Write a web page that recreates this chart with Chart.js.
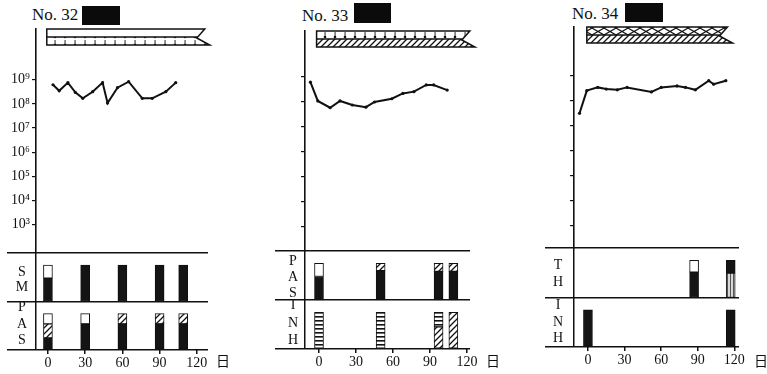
<!DOCTYPE html>
<html>
<head>
<meta charset="utf-8">
<script src="https://cdn.jsdelivr.net/npm/chart.js@4.4.1/dist/chart.umd.min.js"></script>
<style>
  body { margin: 0; width: 767px; height: 374px; overflow: hidden; position: relative; background: #fff;
         font-family: "Liberation Serif", "Noto Sans CJK JP", serif; color: #111; }
  canvas { position: absolute; }
  .title { position: absolute; font-size: 17px; line-height: 17px; top: 6px; }
  .mask { position: absolute; background: #0b0b0b; }
  .row { position: absolute; width: 16px; text-align: center; font-size: 14px; }
  .day { position: absolute; top: 354px; font-size: 14px; line-height: 16px; }
</style>
</head>
<body>
<div class="title" style="left:32px">No. 32</div><div class="mask" style="left:82px;top:6px;width:38px;height:19px"></div>
<div class="title" style="left:302px;top:7px">No. 33</div><div class="mask" style="left:354px;top:3px;width:37px;height:20px"></div>
<div class="title" style="left:572px;top:5px">No. 34</div><div class="mask" style="left:625px;top:3px;width:38px;height:19px"></div>

<canvas id="line32" width="220" height="262" style="left:0;top:0"></canvas>
<canvas id="line33" width="220" height="262" style="left:260px;top:0"></canvas>
<canvas id="line34" width="230" height="262" style="left:520px;top:0"></canvas>
<canvas id="bar32" width="240" height="134" style="left:0;top:240px"></canvas>
<canvas id="bar33" width="240" height="134" style="left:260px;top:240px"></canvas>
<canvas id="bar34" width="247" height="134" style="left:520px;top:240px"></canvas>

<div class="row" style="left:14px;top:264px;line-height:15px">S<br>M</div>
<div class="row" style="left:14px;top:299px;line-height:16.5px">P<br>A<br>S</div>
<div class="row" style="left:285px;top:253px;line-height:16px">P<br>A<br>S</div>
<div class="row" style="left:285px;top:296px;line-height:17.5px">I<br>N<br>H</div>
<div class="row" style="left:550px;top:256px;line-height:17px">T<br>H</div>
<div class="row" style="left:550px;top:297px;line-height:16.5px">I<br>N<br>H</div>
<div class="day" style="left:216px">日</div>
<div class="day" style="left:486px">日</div>
<div class="day" style="left:754px">日</div>

<script>
// ── 菌数 (log) の推移 ──
const days32 = [4, 9, 16, 22, 28, 36, 44, 48, 56, 65, 76, 84, 95, 103];
const cfu32 = [6.2e8, 3.5e8, 7.6e8, 3.0e8, 1.7e8, 3.2e8, 7.6e8, 1.1e8, 4.7e8, 8.3e8, 1.7e8, 1.7e8, 3.2e8, 7.6e8];
const days33 = [-7, -1, 9, 17, 27, 38, 45, 59, 68, 77, 87, 93, 104];
const cfu33 = [6.2e8, 1.1e8, 5.9e7, 1.1e8, 7.6e7, 6.2e7, 1.0e8, 1.35e8, 2.2e8, 2.6e8, 4.8e8, 4.8e8, 3.0e8];
const days34 = [-7, -1, 8, 15, 24, 32, 52, 60, 73, 80, 88, 99, 103, 113];
const cfu34 = [3.2e7, 2.6e8, 3.5e8, 3.0e8, 2.8e8, 3.5e8, 2.3e8, 3.5e8, 4.0e8, 3.5e8, 2.8e8, 6.5e8, 4.7e8, 6.5e8];

const yTicks = [1e3, 1e4, 1e5, 1e6, 1e7, 1e8, 1e9];
const xTicks = [0, 30, 60, 90, 120];

// ── 治療期間 (上部の帯) ──
const regimen32 = [-1, 128];
const regimen33 = [-2, 124];
const regimen34 = [-1, 116];

// ── 耐性検査 (各棒: [塗り, 下端, 上端]) ──
const smDays32 = [0, 30, 60, 90, 109];
const smSegs32 = [
  [["black", 0, 0.64], ["white", 0.64, 1]],
  [["black", 0, 1]], [["black", 0, 1]], [["black", 0, 1]], [["black", 0, 1]],
];
const pasDays32 = [0, 30, 60, 90, 109];
const pasSegs32 = [
  [["black", 0, 0.33], ["diag", 0.33, 0.72], ["white", 0.72, 1]],
  [["black", 0, 0.72], ["white", 0.72, 1]],
  [["black", 0, 0.72], ["diag", 0.72, 1]],
  [["black", 0, 0.72], ["diag", 0.72, 1]],
  [["black", 0, 0.72], ["diag", 0.72, 1]],
];
const pasDays33 = [0, 50, 97, 109];
const pasSegs33 = [
  [["black", 0, 0.64], ["white", 0.64, 1]],
  [["black", 0, 0.8], ["diag", 0.8, 1]],
  [["black", 0, 0.78], ["diag", 0.78, 1]],
  [["black", 0, 0.78], ["diag", 0.78, 1]],
];
const inhDays33 = [0, 50, 97, 109];
const inhSegs33 = [
  [["hline", 0, 1]],
  [["hline", 0, 1]],
  [["diag", 0, 0.6], ["hline", 0.6, 1]],
  [["diag", 0, 1]],
];
const thDays34 = [87, 117];
const thSegs34 = [
  [["black", 0, 0.68], ["white", 0.68, 1]],
  [["vline", 0, 0.66], ["black", 0.66, 1]],
];
const inhDays34 = [0, 117];
const inhSegs34 = [
  [["black", 0, 1]],
  [["black", 0, 1]],
];

const SUP = { 0: "⁰", 1: "¹", 2: "²", 3: "³", 4: "⁴", 5: "⁵", 6: "⁶", 7: "⁷", 8: "⁸", 9: "⁹" };
const INK = "#111";
const BAR_H = 0.75; // 棒の高さ (行の割合)
const FONT = "'Liberation Serif', serif";

function makePattern(kind) {
  const c = document.createElement("canvas");
  const g = c.getContext("2d");
  const size = { diag: [6, 6], hline: [4, 4], vline: [3, 3], dots: [10, 8], cross: [12, 7], blank: [4, 4] }[kind];
  c.width = size[0];
  c.height = size[1];
  g.fillStyle = kind === "vline" ? "#d8d8d8" : "#fff";
  g.fillRect(0, 0, c.width, c.height);
  g.strokeStyle = INK;
  g.fillStyle = INK;
  if (kind === "diag") {
    g.lineWidth = 1.3;
    g.beginPath();
    g.moveTo(0, 6); g.lineTo(6, 0);
    g.moveTo(-1, 1); g.lineTo(1, -1);
    g.moveTo(5, 7); g.lineTo(7, 5);
    g.stroke();
  } else if (kind === "hline") {
    g.fillRect(0, 0, 4, 1.6);
  } else if (kind === "vline") {
    g.fillStyle = "#555";
    g.fillRect(0, 0, 1, 3);
  } else if (kind === "dots") {
    g.beginPath();
    g.arc(5, 5, 1.3, 0, Math.PI * 2);
    g.fill();
    g.fillRect(4.6, 0, 0.9, 4);
  } else if (kind === "cross") {
    g.lineWidth = 1.1;
    g.beginPath();
    g.moveTo(0, 0); g.lineTo(12, 7);
    g.moveTo(0, 7); g.lineTo(12, 0);
    g.stroke();
  }
  return g.createPattern(c, "repeat");
}

const FILLS = {
  black: "#141414",
  white: "#ffffff",
  diag: makePattern("diag"),
  hline: makePattern("hline"),
  vline: makePattern("vline"),
  dots: makePattern("dots"),
  cross: makePattern("cross"),
  blank: "#ffffff",
};

// 上部の治療帯を x 軸の日数に合わせて描く
const regimenPlugin = {
  id: "regimen",
  afterDraw(chart, args, opts) {
    const { ctx, chartArea } = chart;
    const x = chart.scales.x;
    const xs = x.getPixelForValue(opts.span[0]);
    const xe = x.getPixelForValue(opts.span[1]);
    const top = chartArea.top;
    const mid = top + 8;
    const bot = top + 16;
    ctx.save();
    ctx.beginPath();
    ctx.moveTo(xs, top);
    ctx.lineTo(xe - 2, top);
    ctx.lineTo(xe - 10, mid + 1);
    ctx.lineTo(xe + 3, bot);
    ctx.lineTo(xs, bot);
    ctx.closePath();
    ctx.save();
    ctx.clip();
    ctx.fillStyle = FILLS[opts.rows[0]];
    ctx.fillRect(xs, top, xe - xs + 6, 8);
    ctx.fillStyle = FILLS[opts.rows[1]];
    ctx.fillRect(xs, mid, xe - xs + 6, 8);
    ctx.restore();
    ctx.lineWidth = 1.5;
    ctx.strokeStyle = INK;
    ctx.stroke();
    ctx.beginPath();
    ctx.moveTo(xs, mid);
    ctx.lineTo(xe - 9, mid);
    ctx.stroke();
    ctx.restore();
  },
};

function lineChart(id, days, cfu, cfg) {
  return new Chart(document.getElementById(id), {
    type: "line",
    data: {
      datasets: [{
        data: days.map((d, i) => ({ x: d, y: cfu[i] })),
        borderColor: INK,
        borderWidth: 2,
        pointRadius: 1.6,
        pointBackgroundColor: INK,
        pointBorderWidth: 0,
        tension: 0,
      }],
    },
    options: {
      responsive: false,
      animation: false,
      layout: { padding: cfg.padding },
      plugins: { legend: { display: false }, tooltip: { enabled: false }, regimen: { span: cfg.regimen, rows: cfg.rows } },
      scales: {
        x: { type: "linear", display: false, min: cfg.x[0], max: cfg.x[1] },
        y: {
          type: "logarithmic",
          min: Math.pow(10, cfg.y[0]),
          max: Math.pow(10, cfg.y[1]),
          afterBuildTicks: (s) => { s.ticks = yTicks.map((v) => ({ value: v })); },
          afterFit: (s) => { s.width = cfg.axisW; },
          border: { display: true, color: INK, width: 1.6 },
          grid: { drawOnChartArea: false, drawTicks: true, tickLength: 4, color: INK, lineWidth: 1.2 },
          ticks: {
            display: cfg.labels,
            padding: 2,
            color: INK,
            font: { family: FONT, size: 14 },
            callback: (v) => "10" + String(Math.round(Math.log10(v))).split("").map((c) => SUP[c]).join(""),
          },
        },
      },
    },
    plugins: [regimenPlugin],
  });
}

function stripDatasets(rows) {
  const byKind = {};
  rows.forEach((r) => r.days.forEach((d, i) => r.segs[i].forEach(([kind, lo, hi]) => {
    (byKind[kind] = byKind[kind] || []).push({ x: d, y: [r.base + lo * BAR_H, r.base + hi * BAR_H] });
  })));
  return Object.keys(byKind).map((kind) => ({
    data: byKind[kind],
    backgroundColor: FILLS[kind],
    borderColor: INK,
    borderWidth: 1,
    borderSkipped: false,
    barThickness: 9,
    grouped: false,
  }));
}

function barChart(id, rows, cfg) {
  const axisDay = cfg.axisDay;
  return new Chart(document.getElementById(id), {
    type: "bar",
    data: { datasets: stripDatasets(rows) },
    options: {
      responsive: false,
      animation: false,
      layout: { padding: cfg.padding },
      plugins: { legend: { display: false }, tooltip: { enabled: false } },
      scales: {
        x: {
          type: "linear",
          offset: false,
          min: cfg.x[0],
          max: cfg.x[1],
          afterBuildTicks: (s) => { s.ticks = [axisDay].concat(xTicks).map((v) => ({ value: v })); },
          afterFit: (s) => { s.height = cfg.axisH; },
          border: { display: false },
          grid: {
            offset: false,
            drawTicks: true,
            tickLength: 4,
            lineWidth: 1.5,
            color: (c) => (c.tick && c.tick.value === axisDay ? INK : "rgba(0,0,0,0)"),
            tickColor: (c) => (c.tick && c.tick.value === axisDay ? "rgba(0,0,0,0)" : INK),
          },
          ticks: {
            padding: 1,
            color: INK,
            maxRotation: 0,
            autoSkip: false,
            font: { family: FONT, size: 14 },
            callback: (v) => (v === axisDay ? "" : String(v)),
          },
        },
        y: {
          min: 0,
          max: 2,
          afterBuildTicks: (s) => { s.ticks = [0, 1, 2].map((v) => ({ value: v })); },
          afterFit: (s) => { s.width = 0; },
          border: { display: false },
          grid: { drawTicks: false, color: INK, lineWidth: 1.6 },
          ticks: { display: false },
        },
      },
    },
  });
}

// No. 32
lineChart("line32", days32, cfu32, {
  x: [-9.7, 129], y: [1.89, 11.1], axisW: 36, labels: true,
  padding: { left: 0, top: 29, right: 12, bottom: 9 },
  regimen: regimen32, rows: ["blank", "dots"],
});
barChart("bar32", [
  { base: 1, days: smDays32, segs: smSegs32 },
  { base: 0, days: pasDays32, segs: pasSegs32 },
], { x: [-33, 129], axisDay: -9.7, axisH: 24, padding: { left: 7, top: 13, right: 32, bottom: 0 } });

// No. 33
lineChart("line33", days33, cfu33, {
  x: [-11.4, 122.5], y: [2.04, 10.84], axisW: 45, labels: false,
  padding: { left: 0, top: 31, right: 10, bottom: 11 },
  regimen: regimen33, rows: ["dots", "diag"],
});
barChart("bar33", [
  { base: 1, days: pasDays33, segs: pasSegs33 },
  { base: 0, days: inhDays33, segs: inhSegs33 },
], { x: [-35.7, 122.5], axisDay: -11.4, axisH: 25, padding: { left: 15, top: 11, right: 30, bottom: 0 } });

// No. 34
lineChart("line34", days34, cfu34, {
  x: [-11.5, 123.8], y: [2.12, 10.96], axisW: 54, labels: false,
  padding: { left: 0, top: 27, right: 11, bottom: 14 },
  regimen: regimen34, rows: ["cross", "diag"],
});
barChart("bar34", [
  { base: 1, days: thDays34, segs: thSegs34 },
  { base: 0, days: inhDays34, segs: inhSegs34 },
], { x: [-35.2, 123.8], axisDay: -11.5, axisH: 27, padding: { left: 25, top: 8, right: 28, bottom: 0 } });
</script>
</body>
</html>
